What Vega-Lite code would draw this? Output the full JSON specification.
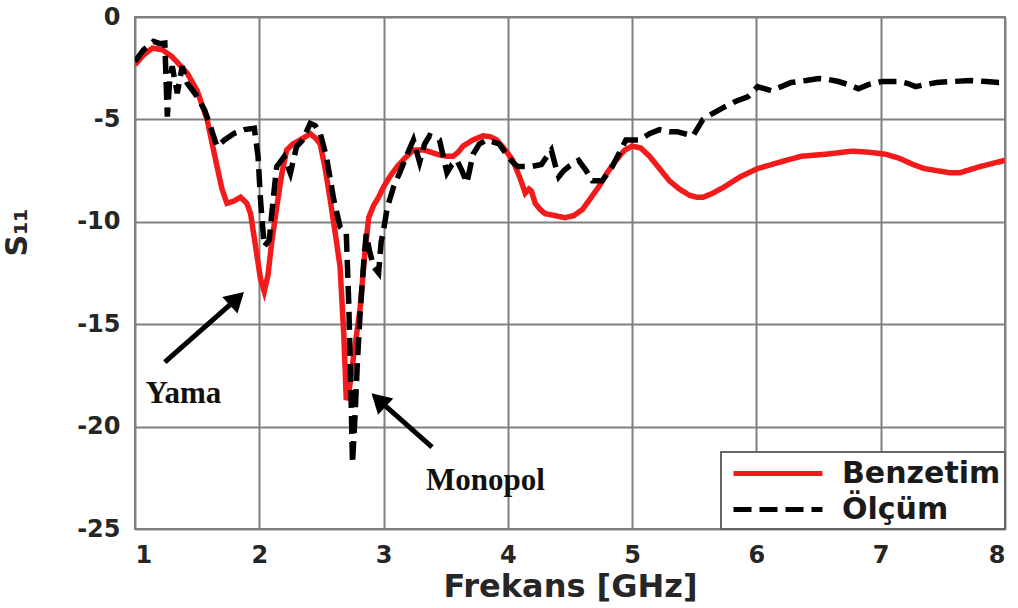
{
  "$schema": "https://vega.github.io/schema/vega-lite/v6.json",
  "autosize": {"type": "none"},
  "width": 870,
  "height": 512,
  "padding": {"left": 135, "top": 17, "right": 13, "bottom": 79},
  "background": "white",
  "config": {
    "view": {"stroke": "#7f7f7f", "strokeWidth": 2},
    "axis": {
      "grid": true, "gridColor": "#808080", "gridWidth": 2, "gridOpacity": 1,
      "domain": false, "ticks": false,
      "labelFont": "DejaVu Sans", "labelFontWeight": "bold", "labelFontSize": 24, "labelColor": "#262626",
      "titleFont": "DejaVu Sans", "titleFontWeight": "bold", "titleColor": "#262626"
    },
    "legend": {
      "strokeColor": "#666666", "strokeWidth": 2, "fillColor": "white",
      "labelFont": "DejaVu Sans", "labelFontWeight": "bold", "labelFontSize": 30, "labelColor": "#1a1a1a", "labelLimit": 400,
      "padding": 4, "rowPadding": 3, "symbolType": "M-0.6,0H5.33", "symbolSize": 900, "symbolStrokeWidth": 5,
      "labelOffset": 82, "offset": 0
    }
  },
  "datasets": {
    "series": [
      {"f":1.00,"s":-2.33,"seri":"Benzetim"},{"f":1.07,"s":-1.85,"seri":"Benzetim"},{"f":1.14,"s":-1.52,"seri":"Benzetim"},{"f":1.22,"s":-1.6,"seri":"Benzetim"},{"f":1.30,"s":-1.95,"seri":"Benzetim"},{"f":1.42,"s":-2.74,"seri":"Benzetim"},{"f":1.50,"s":-3.6,"seri":"Benzetim"},{"f":1.58,"s":-5.0,"seri":"Benzetim"},{"f":1.66,"s":-7.3,"seri":"Benzetim"},{"f":1.70,"s":-8.4,"seri":"Benzetim"},{"f":1.74,"s":-9.1,"seri":"Benzetim"},{"f":1.79,"s":-9.0,"seri":"Benzetim"},{"f":1.85,"s":-8.8,"seri":"Benzetim"},{"f":1.90,"s":-9.1,"seri":"Benzetim"},{"f":1.93,"s":-9.6,"seri":"Benzetim"},{"f":1.97,"s":-11.2,"seri":"Benzetim"},{"f":2.01,"s":-12.8,"seri":"Benzetim"},{"f":2.04,"s":-13.4,"seri":"Benzetim"},{"f":2.07,"s":-12.6,"seri":"Benzetim"},{"f":2.10,"s":-11.0,"seri":"Benzetim"},{"f":2.14,"s":-9.3,"seri":"Benzetim"},{"f":2.18,"s":-7.7,"seri":"Benzetim"},{"f":2.22,"s":-6.5,"seri":"Benzetim"},{"f":2.27,"s":-6.2,"seri":"Benzetim"},{"f":2.33,"s":-6.0,"seri":"Benzetim"},{"f":2.41,"s":-5.7,"seri":"Benzetim"},{"f":2.45,"s":-5.9,"seri":"Benzetim"},{"f":2.49,"s":-6.2,"seri":"Benzetim"},{"f":2.53,"s":-7.4,"seri":"Benzetim"},{"f":2.57,"s":-8.9,"seri":"Benzetim"},{"f":2.61,"s":-10.5,"seri":"Benzetim"},{"f":2.65,"s":-12.2,"seri":"Benzetim"},{"f":2.68,"s":-15.5,"seri":"Benzetim"},{"f":2.70,"s":-18.7,"seri":"Benzetim"},{"f":2.72,"s":-18.4,"seri":"Benzetim"},{"f":2.76,"s":-16.5,"seri":"Benzetim"},{"f":2.81,"s":-14.3,"seri":"Benzetim"},{"f":2.85,"s":-11.5,"seri":"Benzetim"},{"f":2.88,"s":-9.8,"seri":"Benzetim"},{"f":2.92,"s":-9.2,"seri":"Benzetim"},{"f":2.96,"s":-8.8,"seri":"Benzetim"},{"f":3.00,"s":-8.3,"seri":"Benzetim"},{"f":3.05,"s":-7.8,"seri":"Benzetim"},{"f":3.11,"s":-7.3,"seri":"Benzetim"},{"f":3.17,"s":-6.9,"seri":"Benzetim"},{"f":3.24,"s":-6.5,"seri":"Benzetim"},{"f":3.33,"s":-6.5,"seri":"Benzetim"},{"f":3.43,"s":-6.7,"seri":"Benzetim"},{"f":3.50,"s":-6.8,"seri":"Benzetim"},{"f":3.56,"s":-6.8,"seri":"Benzetim"},{"f":3.60,"s":-6.6,"seri":"Benzetim"},{"f":3.64,"s":-6.3,"seri":"Benzetim"},{"f":3.72,"s":-6.0,"seri":"Benzetim"},{"f":3.80,"s":-5.8,"seri":"Benzetim"},{"f":3.86,"s":-5.85,"seri":"Benzetim"},{"f":3.91,"s":-6.0,"seri":"Benzetim"},{"f":3.98,"s":-6.5,"seri":"Benzetim"},{"f":4.04,"s":-7.0,"seri":"Benzetim"},{"f":4.10,"s":-7.9,"seri":"Benzetim"},{"f":4.14,"s":-8.6,"seri":"Benzetim"},{"f":4.17,"s":-8.4,"seri":"Benzetim"},{"f":4.19,"s":-8.5,"seri":"Benzetim"},{"f":4.22,"s":-9.1,"seri":"Benzetim"},{"f":4.26,"s":-9.4,"seri":"Benzetim"},{"f":4.30,"s":-9.6,"seri":"Benzetim"},{"f":4.38,"s":-9.7,"seri":"Benzetim"},{"f":4.46,"s":-9.8,"seri":"Benzetim"},{"f":4.53,"s":-9.7,"seri":"Benzetim"},{"f":4.60,"s":-9.4,"seri":"Benzetim"},{"f":4.66,"s":-8.9,"seri":"Benzetim"},{"f":4.73,"s":-8.3,"seri":"Benzetim"},{"f":4.80,"s":-7.6,"seri":"Benzetim"},{"f":4.87,"s":-7.0,"seri":"Benzetim"},{"f":4.94,"s":-6.5,"seri":"Benzetim"},{"f":5.00,"s":-6.3,"seri":"Benzetim"},{"f":5.07,"s":-6.4,"seri":"Benzetim"},{"f":5.14,"s":-6.8,"seri":"Benzetim"},{"f":5.22,"s":-7.4,"seri":"Benzetim"},{"f":5.30,"s":-8.0,"seri":"Benzetim"},{"f":5.38,"s":-8.4,"seri":"Benzetim"},{"f":5.46,"s":-8.7,"seri":"Benzetim"},{"f":5.52,"s":-8.8,"seri":"Benzetim"},{"f":5.57,"s":-8.8,"seri":"Benzetim"},{"f":5.65,"s":-8.6,"seri":"Benzetim"},{"f":5.74,"s":-8.3,"seri":"Benzetim"},{"f":5.87,"s":-7.8,"seri":"Benzetim"},{"f":6.01,"s":-7.4,"seri":"Benzetim"},{"f":6.18,"s":-7.1,"seri":"Benzetim"},{"f":6.36,"s":-6.8,"seri":"Benzetim"},{"f":6.56,"s":-6.7,"seri":"Benzetim"},{"f":6.77,"s":-6.55,"seri":"Benzetim"},{"f":6.90,"s":-6.6,"seri":"Benzetim"},{"f":7.04,"s":-6.7,"seri":"Benzetim"},{"f":7.15,"s":-6.9,"seri":"Benzetim"},{"f":7.26,"s":-7.2,"seri":"Benzetim"},{"f":7.35,"s":-7.4,"seri":"Benzetim"},{"f":7.45,"s":-7.5,"seri":"Benzetim"},{"f":7.55,"s":-7.6,"seri":"Benzetim"},{"f":7.64,"s":-7.6,"seri":"Benzetim"},{"f":7.72,"s":-7.45,"seri":"Benzetim"},{"f":7.80,"s":-7.3,"seri":"Benzetim"},{"f":7.90,"s":-7.15,"seri":"Benzetim"},{"f":8.00,"s":-7.0,"seri":"Benzetim"},
      {"f":1.00,"s":-2.17,"seri":"Ölçüm"},{"f":1.07,"s":-1.6,"seri":"Ölçüm"},{"f":1.15,"s":-1.19,"seri":"Ölçüm"},{"f":1.20,"s":-1.3,"seri":"Ölçüm"},{"f":1.24,"s":-1.27,"seri":"Ölçüm"},{"f":1.26,"s":-4.86,"seri":"Ölçüm"},{"f":1.28,"s":-3.0,"seri":"Ölçüm"},{"f":1.30,"s":-2.41,"seri":"Ölçüm"},{"f":1.34,"s":-3.72,"seri":"Ölçüm"},{"f":1.38,"s":-2.41,"seri":"Ölçüm"},{"f":1.42,"s":-3.23,"seri":"Ölçüm"},{"f":1.49,"s":-3.8,"seri":"Ölçüm"},{"f":1.56,"s":-4.54,"seri":"Ölçüm"},{"f":1.61,"s":-5.4,"seri":"Ölçüm"},{"f":1.66,"s":-6.33,"seri":"Ölçüm"},{"f":1.72,"s":-6.0,"seri":"Ölçüm"},{"f":1.80,"s":-5.68,"seri":"Ölçüm"},{"f":1.88,"s":-5.5,"seri":"Ölçüm"},{"f":1.96,"s":-5.43,"seri":"Ölçüm"},{"f":1.99,"s":-6.8,"seri":"Ölçüm"},{"f":2.01,"s":-8.94,"seri":"Ölçüm"},{"f":2.04,"s":-11.2,"seri":"Ölçüm"},{"f":2.08,"s":-10.9,"seri":"Ölçüm"},{"f":2.11,"s":-9.0,"seri":"Ölçüm"},{"f":2.14,"s":-7.31,"seri":"Ölçüm"},{"f":2.20,"s":-6.82,"seri":"Ölçüm"},{"f":2.25,"s":-7.63,"seri":"Ölçüm"},{"f":2.30,"s":-6.33,"seri":"Ölçüm"},{"f":2.35,"s":-6.0,"seri":"Ölçüm"},{"f":2.41,"s":-5.19,"seri":"Ölçüm"},{"f":2.45,"s":-5.3,"seri":"Ölçüm"},{"f":2.49,"s":-5.68,"seri":"Ölçüm"},{"f":2.54,"s":-6.82,"seri":"Ölçüm"},{"f":2.60,"s":-8.94,"seri":"Ölçüm"},{"f":2.65,"s":-10.24,"seri":"Ölçüm"},{"f":2.70,"s":-10.57,"seri":"Ölçüm"},{"f":2.72,"s":-14.0,"seri":"Ölçüm"},{"f":2.74,"s":-19.0,"seri":"Ölçüm"},{"f":2.75,"s":-21.8,"seri":"Ölçüm"},{"f":2.77,"s":-19.5,"seri":"Ölçüm"},{"f":2.79,"s":-16.8,"seri":"Ölçüm"},{"f":2.81,"s":-14.6,"seri":"Ölçüm"},{"f":2.84,"s":-12.0,"seri":"Ölçüm"},{"f":2.86,"s":-10.6,"seri":"Ölçüm"},{"f":2.89,"s":-11.5,"seri":"Ölçüm"},{"f":2.92,"s":-12.2,"seri":"Ölçüm"},{"f":2.96,"s":-12.5,"seri":"Ölçüm"},{"f":2.98,"s":-11.0,"seri":"Ölçüm"},{"f":3.00,"s":-10.4,"seri":"Ölçüm"},{"f":3.03,"s":-9.3,"seri":"Ölçüm"},{"f":3.08,"s":-8.3,"seri":"Ölçüm"},{"f":3.13,"s":-7.6,"seri":"Ölçüm"},{"f":3.19,"s":-6.7,"seri":"Ölçüm"},{"f":3.24,"s":-6.0,"seri":"Ölçüm"},{"f":3.29,"s":-7.1,"seri":"Ölçüm"},{"f":3.33,"s":-6.2,"seri":"Ölçüm"},{"f":3.37,"s":-5.8,"seri":"Ölçüm"},{"f":3.45,"s":-6.0,"seri":"Ölçüm"},{"f":3.51,"s":-7.6,"seri":"Ölçüm"},{"f":3.55,"s":-7.2,"seri":"Ölçüm"},{"f":3.59,"s":-7.0,"seri":"Ölçüm"},{"f":3.63,"s":-7.5,"seri":"Ölçüm"},{"f":3.67,"s":-8.1,"seri":"Ölçüm"},{"f":3.72,"s":-6.7,"seri":"Ölçüm"},{"f":3.77,"s":-6.2,"seri":"Ölçüm"},{"f":3.83,"s":-6.0,"seri":"Ölçüm"},{"f":3.93,"s":-6.2,"seri":"Ölçüm"},{"f":4.00,"s":-6.8,"seri":"Ölçüm"},{"f":4.04,"s":-7.1,"seri":"Ölçüm"},{"f":4.08,"s":-7.3,"seri":"Ölçüm"},{"f":4.19,"s":-7.3,"seri":"Ölçüm"},{"f":4.27,"s":-7.2,"seri":"Ölçüm"},{"f":4.35,"s":-6.5,"seri":"Ölçüm"},{"f":4.38,"s":-7.2,"seri":"Ölçüm"},{"f":4.41,"s":-7.8,"seri":"Ölçüm"},{"f":4.45,"s":-7.5,"seri":"Ölçüm"},{"f":4.49,"s":-7.3,"seri":"Ölçüm"},{"f":4.57,"s":-7.0,"seri":"Ölçüm"},{"f":4.63,"s":-7.5,"seri":"Ölçüm"},{"f":4.68,"s":-8.0,"seri":"Ölçüm"},{"f":4.76,"s":-8.0,"seri":"Ölçüm"},{"f":4.84,"s":-7.3,"seri":"Ölçüm"},{"f":4.90,"s":-6.6,"seri":"Ölçüm"},{"f":4.95,"s":-6.0,"seri":"Ölçüm"},{"f":5.06,"s":-6.0,"seri":"Ölçüm"},{"f":5.14,"s":-5.7,"seri":"Ölçüm"},{"f":5.22,"s":-5.5,"seri":"Ölçüm"},{"f":5.30,"s":-5.6,"seri":"Ölçüm"},{"f":5.36,"s":-5.6,"seri":"Ölçüm"},{"f":5.49,"s":-5.8,"seri":"Ölçüm"},{"f":5.57,"s":-5.0,"seri":"Ölçüm"},{"f":5.65,"s":-4.7,"seri":"Ölçüm"},{"f":5.74,"s":-4.4,"seri":"Ölçüm"},{"f":5.84,"s":-4.1,"seri":"Ölçüm"},{"f":5.93,"s":-3.9,"seri":"Ölçüm"},{"f":6.01,"s":-3.4,"seri":"Ölçüm"},{"f":6.12,"s":-3.6,"seri":"Ölçüm"},{"f":6.20,"s":-3.4,"seri":"Ölçüm"},{"f":6.28,"s":-3.2,"seri":"Ölçüm"},{"f":6.40,"s":-3.1,"seri":"Ölçüm"},{"f":6.50,"s":-3.0,"seri":"Ölçüm"},{"f":6.58,"s":-3.05,"seri":"Ölçüm"},{"f":6.66,"s":-3.15,"seri":"Ölçüm"},{"f":6.74,"s":-3.3,"seri":"Ölçüm"},{"f":6.82,"s":-3.5,"seri":"Ölçüm"},{"f":6.90,"s":-3.3,"seri":"Ölçüm"},{"f":7.01,"s":-3.15,"seri":"Ölçüm"},{"f":7.15,"s":-3.15,"seri":"Ölçüm"},{"f":7.22,"s":-3.25,"seri":"Ölçüm"},{"f":7.28,"s":-3.4,"seri":"Ölçüm"},{"f":7.36,"s":-3.3,"seri":"Ölçüm"},{"f":7.45,"s":-3.2,"seri":"Ölçüm"},{"f":7.58,"s":-3.15,"seri":"Ölçüm"},{"f":7.72,"s":-3.1,"seri":"Ölçüm"},{"f":7.85,"s":-3.15,"seri":"Ölçüm"},{"f":7.95,"s":-3.2,"seri":"Ölçüm"},{"f":8.00,"s":-3.2,"seri":"Ölçüm"}
    ],
    "arrows": [
      {"id": "Yama", "f": 1.24, "s": -16.85, "fh": 1.82, "sh": -13.75},
      {"id": "Monopol", "f": 3.39, "s": -21.0, "fh": 2.96, "sh": -18.7}
    ],
    "notes": [
      {"id": "Yama", "f": 1.39, "s": -18.4},
      {"id": "Monopol", "f": 3.82, "s": -22.66}
    ]
  },
  "layer": [
    {
      "data": {"name": "series"},
      "mark": {"type": "line", "strokeWidth": 5.5, "clip": true},
      "encoding": {
        "x": {"field": "f", "type": "quantitative", "scale": {"domain": [1, 8], "nice": false},
              "axis": {"values": [1,2,3,4,5,6,7,8], "format": "d", "title": "Frekans [GHz]", "titleFontSize": 32, "labelPadding": 14, "titlePadding": 4}},
        "y": {"field": "s", "type": "quantitative", "scale": {"domain": [-25, 0], "nice": false},
              "axis": {"values": [-25,-20,-15,-10,-5,0], "labelExpr": "'' + datum.value", "title": "S₁₁", "titleFontSize": 30, "labelPadding": 15,
                       "titleAngle": -90, "titleAlign": "center", "titleBaseline": "middle", "titleX": -118, "titleY": 215}},
        "color": {"field": "seri", "type": "nominal",
                  "scale": {"domain": ["Benzetim", "Ölçüm"], "range": ["#f21a1a", "#000000"]},
                  "legend": {"title": null, "orient": "bottom-right"}},
        "strokeDash": {"field": "seri", "type": "nominal",
                       "scale": {"domain": ["Benzetim", "Ölçüm"], "range": [[1, 0], [18, 8]]},
                       "legend": {"title": null, "orient": "bottom-right"}},
        "order": {"field": "f", "type": "quantitative"}
      }
    },
    {
      "data": {"name": "arrows"},
      "mark": {"type": "rule", "strokeWidth": 5, "color": "black"},
      "encoding": {
        "x": {"field": "f", "type": "quantitative"},
        "y": {"field": "s", "type": "quantitative"},
        "x2": {"field": "fh"},
        "y2": {"field": "sh"}
      }
    },
    {
      "data": {"name": "arrows"},
      "transform": [{"filter": "datum.id == 'Yama'"}],
      "mark": {"type": "point", "shape": "triangle-up", "filled": true, "color": "black", "opacity": 1, "size": 500, "angle": 47},
      "encoding": {
        "x": {"field": "fh", "type": "quantitative"},
        "y": {"field": "sh", "type": "quantitative"}
      }
    },
    {
      "data": {"name": "arrows"},
      "transform": [{"filter": "datum.id == 'Monopol'"}],
      "mark": {"type": "point", "shape": "triangle-up", "filled": true, "color": "black", "opacity": 1, "size": 500, "angle": 313},
      "encoding": {
        "x": {"field": "fh", "type": "quantitative"},
        "y": {"field": "sh", "type": "quantitative"}
      }
    },
    {
      "data": {"name": "notes"},
      "mark": {"type": "text", "font": "Liberation Serif", "fontWeight": "bold", "fontSize": 31, "color": "#111111", "align": "center", "baseline": "middle"},
      "encoding": {
        "x": {"field": "f", "type": "quantitative"},
        "y": {"field": "s", "type": "quantitative"},
        "text": {"field": "id"}
      }
    }
  ]
}
